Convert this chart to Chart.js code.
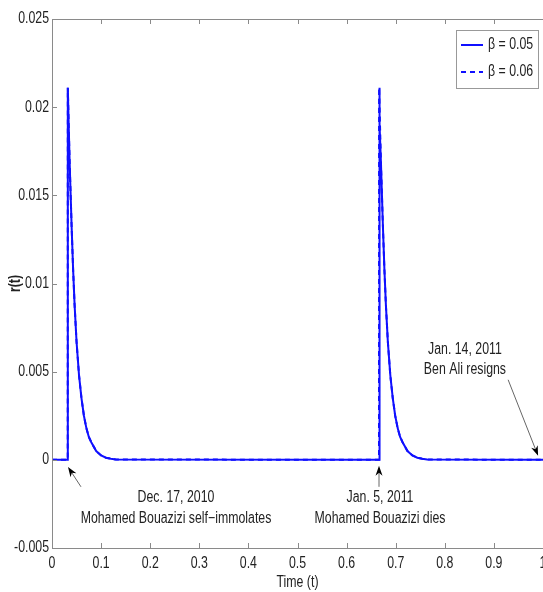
<!DOCTYPE html>
<html><head><meta charset="utf-8">
<script src="https://cdn.jsdelivr.net/npm/chart.js@4.4.1/dist/chart.umd.min.js"></script>
<style>html,body{margin:0;padding:0;background:#fff;overflow:hidden}#wrap{width:543px;height:592px;position:relative}</style>
</head><body><div id="wrap"><canvas id="c"></canvas></div>
<script>
// ---- data ----
const timeValues = [0, 0.032, 0.0322, 0.034, 0.036, 0.038, 0.04, 0.043, 0.046, 0.05, 0.055, 0.06, 0.065, 0.07, 0.075, 0.08, 0.09, 0.1, 0.11, 0.12, 0.13,
  0.666, 0.6662, 0.668, 0.670, 0.672, 0.674, 0.677, 0.680, 0.684, 0.689, 0.694, 0.699, 0.704, 0.709, 0.714, 0.724, 0.734, 0.744, 0.754, 0.764, 1.0];
const rBeta005 = [0, 0, 0.0211, 0.0190, 0.0168, 0.0150, 0.0132, 0.0108, 0.0088, 0.0067, 0.0048, 0.0035, 0.0025, 0.0018, 0.0013, 0.0010, 0.0005, 0.00025, 0.00012, 0.00006, 0.00002,
  0, 0.0211, 0.0190, 0.0168, 0.0150, 0.0132, 0.0108, 0.0088, 0.0067, 0.0048, 0.0035, 0.0025, 0.0018, 0.0013, 0.0010, 0.0005, 0.00025, 0.00012, 0.00006, 0.00002, 0];
const rBeta006 = [0, 0, 0.0211, 0.0190, 0.0168, 0.0150, 0.0132, 0.0108, 0.0088, 0.0067, 0.0048, 0.0035, 0.0025, 0.0018, 0.0013, 0.0010, 0.0005, 0.00025, 0.00012, 0.00006, 0.00002,
  0, 0.0211, 0.0190, 0.0168, 0.0150, 0.0132, 0.0108, 0.0088, 0.0067, 0.0048, 0.0035, 0.0025, 0.0018, 0.0013, 0.0010, 0.0005, 0.00025, 0.00012, 0.00006, 0.00002, 0];
const seriesLabels = ['β = 0.05', 'β = 0.06'];
const xTickValues = [0, 0.1, 0.2, 0.3, 0.4, 0.5, 0.6, 0.7, 0.8, 0.9, 1];
const xTickLabels = ['0', '0.1', '0.2', '0.3', '0.4', '0.5', '0.6', '0.7', '0.8', '0.9', '1'];
const yTickValues = [-0.005, 0, 0.005, 0.01, 0.015, 0.02, 0.025];
const yTickLabels = ['-0.005', '0', '0.005', '0.01', '0.015', '0.02', '0.025'];
const xTitle = 'Time (t)';
const yTitle = 'r(t)';
// annotation texts, anchored in data units
const annotations = [
  {lines: ['Dec. 17, 2010', 'Mohamed Bouazizi self\u2212immolates'], tx: 0.2525, ty: [-0.00216, -0.00335], tip: [0.0326, -0.0004], tail: [0.059, -0.00153]},
  {lines: ['Jan. 5, 2011', 'Mohamed Bouazizi dies'], tx: 0.668, ty: [-0.00216, -0.00335], tip: [0.666, -0.00034], tail: [0.666, -0.00153]},
  {lines: ['Jan. 14, 2011', 'Ben Ali resigns'], tx: 0.841, ty: [0.00624, 0.0051], tip: [0.99, 0.00023], tail: [0.929, 0.00454]}
];

// the reference text is horizontally condensed: draw all text squeezed around its anchor
const TEXT_SQUEEZE = 0.77;
(function () {
  const P = CanvasRenderingContext2D.prototype;
  const orig = P.fillText;
  P.fillText = function (t, x, y, mw) {
    this.save(); this.translate(x, y); this.scale(TEXT_SQUEEZE, 1);
    if (mw === undefined) orig.call(this, t, 0, 0); else orig.call(this, t, 0, 0, mw / TEXT_SQUEEZE);
    this.restore();
  };
})();

const FONT = "'Liberation Sans', Arial, sans-serif";
const FS = 16;
const AXIS = '#8a8a8a';
const TXT = '#222';
const BLUE = '#1010ff';

function pts(ys) { return timeValues.map((t, i) => ({x: t, y: ys[i]})); }

const axisPlugin = {
  id: 'matlabAxes',
  afterDraw(chart) {
    const {ctx, chartArea: a, scales: {x, y}} = chart;
    ctx.save();
    ctx.strokeStyle = AXIS; ctx.lineWidth = 1;
    ctx.beginPath();
    ctx.moveTo(a.left + 0.5, a.bottom + 0.5); ctx.lineTo(a.left + 0.5, a.top + 0.5); ctx.lineTo(a.right, a.top + 0.5);
    ctx.moveTo(a.left, a.bottom + 0.5); ctx.lineTo(a.right, a.bottom + 0.5);
    xTickValues.forEach(v => {
      const px = Math.round(x.getPixelForValue(v)) + 0.5;
      ctx.moveTo(px, a.bottom); ctx.lineTo(px, a.bottom - 5);
      ctx.moveTo(px, a.top); ctx.lineTo(px, a.top + 5);
    });
    yTickValues.forEach(v => {
      const py = Math.round(y.getPixelForValue(v)) + 0.5;
      ctx.moveTo(a.left, py); ctx.lineTo(a.left + 5, py);
    });
    ctx.stroke();

    // annotations
    ctx.font = FS + 'px ' + FONT; ctx.fillStyle = TXT; ctx.textAlign = 'center'; ctx.textBaseline = 'middle';
    annotations.forEach(an => {
      an.lines.forEach((ln, i) => ctx.fillText(ln, x.getPixelForValue(an.tx), y.getPixelForValue(an.ty[i])));
      const x1 = x.getPixelForValue(an.tail[0]), y1 = y.getPixelForValue(an.tail[1]);
      const x2 = x.getPixelForValue(an.tip[0]), y2 = y.getPixelForValue(an.tip[1]);
      const ang = Math.atan2(y2 - y1, x2 - x1);
      ctx.strokeStyle = '#666'; ctx.lineWidth = 1;
      ctx.beginPath(); ctx.moveTo(x1, y1); ctx.lineTo(x2 - 6 * Math.cos(ang), y2 - 6 * Math.sin(ang)); ctx.stroke();
      ctx.fillStyle = '#000';
      ctx.beginPath();
      ctx.moveTo(x2, y2);
      ctx.lineTo(x2 - 10 * Math.cos(ang) + 3.5 * Math.sin(ang), y2 - 10 * Math.sin(ang) - 3.5 * Math.cos(ang));
      ctx.lineTo(x2 - 7 * Math.cos(ang), y2 - 7 * Math.sin(ang));
      ctx.lineTo(x2 - 10 * Math.cos(ang) - 3.5 * Math.sin(ang), y2 - 10 * Math.sin(ang) + 3.5 * Math.cos(ang));
      ctx.closePath(); ctx.fill();
      ctx.fillStyle = TXT;
    });

    // legend
    const bx = a.right - 87, by = a.top + 11, bw = 82, bh = 58;
    ctx.fillStyle = '#fff'; ctx.fillRect(bx, by, bw, bh);
    ctx.strokeStyle = '#999'; ctx.lineWidth = 1; ctx.strokeRect(bx + 0.5, by + 0.5, bw, bh);
    chart.data.datasets.forEach((ds, i) => {
      const ly = by + 15 + i * 27;
      ctx.strokeStyle = ds.borderColor; ctx.lineWidth = 2;
      ctx.setLineDash(ds.borderDash || []);
      ctx.beginPath(); ctx.moveTo(bx + 5, ly); ctx.lineTo(bx + 27, ly); ctx.stroke();
      ctx.setLineDash([]);
      ctx.fillStyle = TXT; ctx.textAlign = 'left'; ctx.textBaseline = 'middle';
      ctx.font = FS + 'px ' + FONT;
      ctx.fillText(ds.label, bx + 32, ly);
    });
    ctx.restore();
  }
};

new Chart(document.getElementById('c'), {
  type: 'line',
  data: {
    datasets: [
      {label: seriesLabels[0], data: pts(rBeta005), borderColor: BLUE, borderWidth: 2, pointRadius: 0, tension: 0, order: 1},
      {label: seriesLabels[1], data: pts(rBeta006), borderColor: BLUE, borderWidth: 2, borderDash: [5, 4], pointRadius: 0, tension: 0, order: 2}
    ]
  },
  options: {
    responsive: true, maintainAspectRatio: false, animation: false,
    layout: {padding: {top: 19, right: 0, left: 0, bottom: 0}},
    plugins: {legend: {display: false}, tooltip: {enabled: false}},
    scales: {
      x: {
        type: 'linear', min: 0, max: 1,
        afterBuildTicks: s => { s.ticks = xTickValues.map(v => ({value: v})); },
        afterFit: s => { s.height = 44; s.paddingLeft = 0; s.paddingRight = 0; },
        grid: {display: false, drawTicks: false},
        border: {display: false},
        ticks: {padding: 6, color: TXT, font: {family: FONT, size: FS}, maxRotation: 0, autoSkip: false,
          callback: (v, i) => xTickLabels[i]},
        title: {display: true, text: xTitle, color: TXT, font: {family: FONT, size: FS}, padding: {top: 0, bottom: 0}}
      },
      y: {
        type: 'linear', min: -0.005, max: 0.025,
        afterBuildTicks: s => { s.ticks = yTickValues.map(v => ({value: v})); },
        afterFit: s => { s.width = 52; s.paddingTop = 0; s.paddingBottom = 0; },
        grid: {display: false, drawTicks: false},
        border: {display: false},
        ticks: {padding: 3, color: TXT, font: {family: FONT, size: FS}, autoSkip: false,
          callback: (v, i) => yTickLabels[i]},
        title: {display: true, text: yTitle, color: TXT, font: {family: FONT, size: FS, weight: 'bold'}, padding: {top: 6, bottom: 0}}
      }
    }
  },
  plugins: [axisPlugin]
});
</script></body></html>
